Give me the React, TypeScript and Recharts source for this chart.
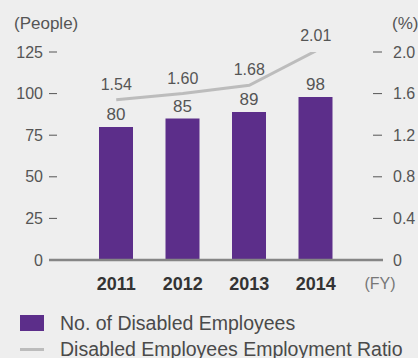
import React from "react";
import {
  ComposedChart,
  Bar,
  Line,
  XAxis,
  YAxis,
  LabelList,
  Legend,
} from "recharts";

const years = ["2011", "2012", "2013", "2014"];
const employees = [80, 85, 89, 98];
const ratio = [1.54, 1.6, 1.68, 2.01];
const leftTicks = [0, 25, 50, 75, 100, 125];
const rightTicks = [0, 0.4, 0.8, 1.2, 1.6, 2.0];

const data = years.map((y, i) => ({ year: y, employees: employees[i], ratio: ratio[i] }));

const FONT = '"Liberation Sans", Arial, Helvetica, sans-serif';
const PURPLE = "#5c2e8a";
const LINE_GRAY = "#bcbcbc";
const TEXT = "#555555";

const LeftTick = (props: any) => {
  const { x, y, payload } = props;
  return (
    <g>
      <text x={x} y={y} textAnchor="end" dominantBaseline="central" fontSize={16} fill={TEXT} fontFamily={FONT}>
        {payload.value}
      </text>
      {payload.value !== 0 && (
        <line x1={x + 6} x2={x + 14} y1={y} y2={y} stroke={TEXT} strokeWidth={1} />
      )}
    </g>
  );
};

const RightTick = (props: any) => {
  const { x, y, payload } = props;
  const v = payload.value;
  return (
    <g>
      <text x={x} y={y} textAnchor="start" dominantBaseline="central" fontSize={16} fill={TEXT} fontFamily={FONT}>
        {v === 0 ? "0" : v.toFixed(1)}
      </text>
      {v !== 0 && <line x1={x - 20} x2={x - 11} y1={y} y2={y} stroke={TEXT} strokeWidth={1} />}
    </g>
  );
};

const renderLegend = () => (
  <div style={{ fontFamily: FONT, fontSize: 19.5, color: "#4a4a4a", whiteSpace: "nowrap" }}>
    <div style={{ display: "flex", alignItems: "center", height: 26 }}>
      <div style={{ marginLeft: 20, width: 24, height: 16, background: PURPLE }} />
      <span style={{ marginLeft: 16 }}>No. of Disabled Employees</span>
    </div>
    <div style={{ display: "flex", alignItems: "center", height: 26 }}>
      <div style={{ marginLeft: 20, width: 24, height: 3, background: LINE_GRAY }} />
      <span style={{ marginLeft: 16 }}>Disabled Employees Employment Ratio</span>
    </div>
  </div>
);

export default function App() {
  return (
    <div style={{ position: "absolute", left: 0, top: 0, width: 418, height: 358, background: "#eeeeee", overflow: "hidden" }}>
      <ComposedChart
        width={418}
        height={358}
        data={data}
        margin={{ top: 52, right: 0, bottom: 68, left: 0 }}
      >
        <XAxis
          dataKey="year"
          padding={{ left: 34, right: 34 }}
          axisLine={{ stroke: "#858585", strokeWidth: 2.5 }}
          tickLine={false}
          tickSize={0}
          tickMargin={17}
          height={30}
          tick={{ fontSize: 18, fontWeight: "bold", fill: "#333", fontFamily: FONT }}
          label={(p: any) => {
            const vb = p.viewBox;
            return (
              <text x={vb.x + vb.width - 3} y={283} textAnchor="middle" dominantBaseline="central" fontSize={16} fill="#777" fontFamily={FONT}>
                (FY)
              </text>
            );
          }}
        />
        <YAxis
          yAxisId="left"
          width={49}
          domain={[0, 125]}
          ticks={leftTicks}
          axisLine={false}
          tickLine={false}
          tickSize={0}
          tickMargin={6}
          tick={<LeftTick />}
          interval={0}
          label={(p: any) => {
            const vb = p.viewBox;
            return (
              <text x={vb.x + 14} y={vb.y - 29} dominantBaseline="central" fontSize={17} fill={TEXT} fontFamily={FONT}>
                (People)
              </text>
            );
          }}
        />
        <YAxis
          yAxisId="right"
          orientation="right"
          width={35}
          domain={[0, 2]}
          allowDataOverflow
          ticks={rightTicks}
          axisLine={false}
          tickLine={false}
          tickSize={0}
          tickMargin={10}
          tick={<RightTick />}
          interval={0}
          label={(p: any) => {
            const vb = p.viewBox;
            return (
              <text x={vb.x + 9} y={vb.y - 29} dominantBaseline="central" fontSize={17} fill={TEXT} fontFamily={FONT}>
                (%)
              </text>
            );
          }}
        />
        <Bar yAxisId="left" dataKey="employees" fill={PURPLE} barSize={34} isAnimationActive={false}>
          <LabelList dataKey="employees" position="top" offset={7} fontSize={17} fill={TEXT} fontFamily={FONT} />
        </Bar>
        <Line
          yAxisId="right"
          dataKey="ratio"
          type="linear"
          stroke={LINE_GRAY}
          strokeWidth={3}
          dot={false}
          isAnimationActive={false}
        >
          <LabelList
            dataKey="ratio"
            position="top"
            offset={10}
            fontSize={16}
            fill={TEXT}
            fontFamily={FONT}
            formatter={(v: any) => Number(v).toFixed(2)}
          />
        </Line>
        <Legend
          layout="horizontal"
          verticalAlign="middle"
          content={renderLegend}
          wrapperStyle={{ top: 310, left: 0, width: 418, bottom: "auto", right: "auto" }}
        />
      </ComposedChart>
    </div>
  );
}
